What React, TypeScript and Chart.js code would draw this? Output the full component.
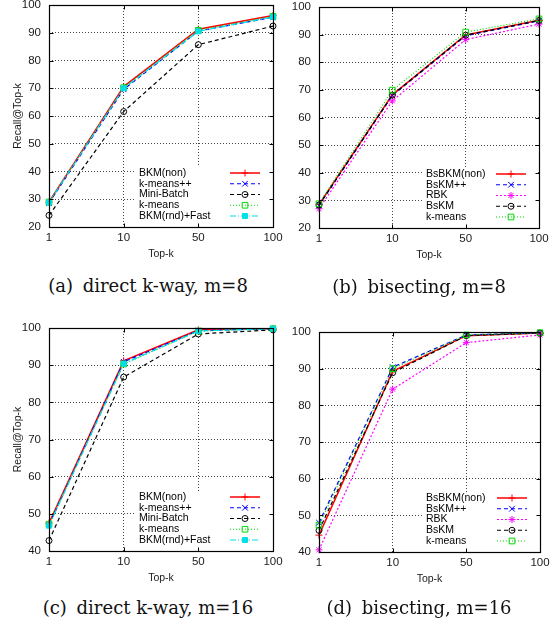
import React, { useEffect, useRef } from 'react';
import { Chart, registerables } from 'chart.js';

Chart.register(...registerables);

// ---------------- data ----------------
const topK = ['1', '10', '50', '100'];

// (a) direct k-way, m=8
const aBkmNon = [29.0, 70.6, 91.3, 96.2];
const aKmeansPP = [28.6, 69.6, 90.6, 95.6];
const aMiniBatch = [24.2, 61.6, 85.7, 92.4];
const aKmeans = [29.0, 70.2, 90.9, 95.9];
const aBkmRndFast = [28.8, 70.0, 90.5, 95.7];

// (b) bisecting, m=8
const bBsBkmNon = [28.5, 68.2, 89.9, 95.2];
const bBsKmPP = [28.2, 68.0, 89.6, 95.0];
const bRbk = [27.0, 66.0, 88.2, 93.8];
const bBsKm = [28.3, 68.1, 89.8, 95.1];
const bKmeans = [28.8, 69.9, 90.9, 95.7];

// (c) direct k-way, m=16
const cBkmNon = [47.5, 91.2, 99.5, 99.8];
const cKmeansPP = [47.0, 90.9, 99.3, 99.8];
const cMiniBatch = [42.8, 86.8, 98.4, 99.5];
const cKmeans = [47.2, 90.3, 99.2, 99.8];
const cBkmRndFast = [46.8, 90.4, 99.2, 99.8];

// (d) bisecting, m=16
const dBsBkmNon = [44.6, 89.3, 99.0, 99.7];
const dBsKmPP = [48.0, 90.4, 99.2, 99.8];
const dRbk = [40.6, 84.4, 97.1, 99.2];
const dBsKm = [45.9, 88.9, 99.0, 99.7];
const dKmeans = [47.3, 90.0, 99.2, 99.8];

const directLabels = ['BKM(non)', 'k-means++', 'Mini-Batch', 'k-means', 'BKM(rnd)+Fast'];
const bisectLabels = ['BsBKM(non)', 'BsKM++', 'RBK', 'BsKM', 'k-means'];

// ---------------- styles ----------------
type Style = { color: string; dash: number[]; marker: string; radius: number; filled: boolean; width: number };

const RED: Style = { color: '#ff0000', dash: [], marker: 'cross', radius: 3.5, filled: false, width: 1.5 };
const BLUE: Style = { color: '#0000ff', dash: [4, 3], marker: 'crossRot', radius: 4, filled: false, width: 1.2 };
const BLACK: Style = { color: '#000000', dash: [4, 3], marker: 'circle', radius: 3, filled: false, width: 1.2 };
const GREEN: Style = { color: '#00dd00', dash: [1, 2], marker: 'rect', radius: 4, filled: false, width: 1.2 };
const CYAN: Style = { color: '#00e0e8', dash: [6, 2, 1, 2], marker: 'rect', radius: 3.5, filled: true, width: 1.2 };
const MAGENTA: Style = { color: '#ff00ff', dash: [2, 2], marker: 'star', radius: 3.5, filled: false, width: 1.2 };

const SANS = '"Liberation Sans", Arial, Helvetica, sans-serif';

type Series = { label: string; values: number[]; style: Style };

type PanelCfg = {
  left: number;
  top: number;
  cl: number;
  ct: number;
  cr: number;
  cb: number;
  yMin: number;
  yMax: number;
  yTitle: boolean;
  legendTextOffset: number;
  series: Series[];
};

function drawMarker(ctx: CanvasRenderingContext2D, s: Style, x: number, y: number) {
  const r = s.radius;
  ctx.save();
  ctx.setLineDash([]);
  ctx.strokeStyle = s.color;
  ctx.fillStyle = s.color;
  ctx.lineWidth = 1;
  ctx.beginPath();
  const d = r * Math.SQRT1_2;
  if (s.marker === 'cross' || s.marker === 'star') {
    ctx.moveTo(x - r, y);
    ctx.lineTo(x + r, y);
    ctx.moveTo(x, y - r);
    ctx.lineTo(x, y + r);
  }
  if (s.marker === 'crossRot' || s.marker === 'star') {
    ctx.moveTo(x - d, y - d);
    ctx.lineTo(x + d, y + d);
    ctx.moveTo(x - d, y + d);
    ctx.lineTo(x + d, y - d);
  }
  if (s.marker === 'circle') {
    ctx.arc(x, y, r, 0, Math.PI * 2);
  }
  if (s.marker === 'rect') {
    ctx.rect(x - d, y - d, 2 * d, 2 * d);
    if (s.filled) ctx.fill();
  }
  ctx.stroke();
  ctx.restore();
}

function Panel({ cfg }: { cfg: PanelCfg }) {
  const ref = useRef<HTMLCanvasElement>(null);
  const W = cfg.cr + 17 - cfg.left;
  const H = cfg.cb + 43 - cfg.top;
  const yW = cfg.cl - cfg.left;
  const padTop = cfg.ct - cfg.top;

  useEffect(() => {
    if (!ref.current) return;
    const n = cfg.series.length;
    const gp = {
      id: 'gp',
      beforeDatasetsDraw(chart: any) {
        const { ctx, chartArea: ca } = chart;
        ctx.save();
        ctx.fillStyle = '#ffffff';
        const bx = Math.round(ca.right - cfg.legendTextOffset - 3);
        ctx.fillRect(bx, ca.bottom - 60, ca.right - bx - 1, 59);
        ctx.restore();
      },
      afterDatasetsDraw(chart: any) {
        const { ctx, chartArea: ca, scales } = chart;
        ctx.save();
        ctx.setLineDash([]);
        ctx.strokeStyle = '#000';
        ctx.lineWidth = 1.2;
        const L = Math.round(ca.left) + 0.5;
        const R = Math.round(ca.right) + 0.5;
        const T = Math.round(ca.top) + 0.5;
        const B = Math.round(ca.bottom) + 0.5;
        ctx.strokeRect(L, T, R - L, B - T);
        ctx.lineWidth = 1;
        ctx.beginPath();
        scales.y.ticks.forEach((t: any) => {
          const y = Math.round(scales.y.getPixelForValue(t.value)) + 0.5;
          ctx.moveTo(L, y);
          ctx.lineTo(L + 4, y);
          ctx.moveTo(R, y);
          ctx.lineTo(R - 4, y);
        });
        topK.forEach((_, i) => {
          const x = Math.round(scales.x.getPixelForValue(i)) + 0.5;
          ctx.moveTo(x, B);
          ctx.lineTo(x, B - 4);
          ctx.moveTo(x, T);
          ctx.lineTo(x, T + 4);
        });
        ctx.stroke();

        // key
        ctx.font = `10.5px ${SANS}`;
        ctx.textBaseline = 'middle';
        ctx.textAlign = 'left';
        cfg.series.forEach((s, i) => {
          const y = ca.bottom - 11 - (n - 1 - i) * 10.75;
          ctx.fillStyle = '#000';
          ctx.fillText(s.label, ca.right - cfg.legendTextOffset, y);
          ctx.save();
          ctx.strokeStyle = s.style.color;
          ctx.lineWidth = s.style.width;
          ctx.setLineDash(s.style.dash);
          ctx.beginPath();
          ctx.moveTo(ca.right - 43, y);
          ctx.lineTo(ca.right - 13, y);
          ctx.stroke();
          ctx.restore();
          drawMarker(ctx, s.style, ca.right - 28, y);
        });
        ctx.restore();
      },
    };

    const tickFont = { family: SANS, size: 11.5 };
    const titleFont = { family: SANS, size: 10.5 };
    const chart = new Chart(ref.current, {
      type: 'line',
      data: {
        labels: topK,
        datasets: cfg.series.map((s, i) => ({
          label: s.label,
          data: s.values,
          borderColor: s.style.color,
          backgroundColor: s.style.color,
          borderWidth: s.style.width,
          borderDash: s.style.dash,
          pointStyle: s.style.marker as any,
          pointRadius: s.style.radius,
          pointBorderWidth: 1,
          pointBorderColor: s.style.color,
          pointBackgroundColor: s.style.filled ? s.style.color : 'rgba(0,0,0,0)',
          tension: 0,
          fill: false,
          clip: false as any,
          order: n - i,
        })),
      },
      options: {
        responsive: false,
        animation: false,
        devicePixelRatio: 1,
        layout: { padding: { top: padTop, right: 17, left: 0, bottom: 0 } },
        plugins: { legend: { display: false }, tooltip: { enabled: false } },
        scales: {
          x: {
            type: 'category',
            offset: false,
            ticks: { padding: 4, font: tickFont, color: '#1a1a1a', maxRotation: 0, autoSkip: false },
            grid: { color: '#444', drawTicks: false, lineWidth: 1 },
            border: { display: false, dash: [1, 2] },
            title: { display: true, text: 'Top-k', font: titleFont, color: '#1a1a1a', padding: { top: 0, bottom: 10 } },
            afterFit(s: any) {
              s.height = 43;
              s.paddingLeft = 0;
              s.paddingRight = 0;
            },
          },
          y: {
            min: cfg.yMin,
            max: cfg.yMax,
            ticks: { stepSize: 10, padding: 8, font: tickFont, color: '#1a1a1a' },
            grid: { color: '#444', drawTicks: false, lineWidth: 1 },
            border: { display: false, dash: [1, 2] },
            title: {
              display: cfg.yTitle,
              text: 'Recall@Top-k',
              font: titleFont,
              color: '#1a1a1a',
              padding: { top: 12, bottom: 0 },
            },
            afterFit(s: any) {
              s.width = yW;
              s.paddingTop = 0;
              s.paddingBottom = 0;
            },
          },
        },
      },
      plugins: [gp],
    } as any);
    return () => chart.destroy();
  }, []);

  return (
    <canvas
      ref={ref}
      width={W}
      height={H}
      style={{ position: 'absolute', left: cfg.left, top: cfg.top, width: W, height: H }}
    />
  );
}

function mk(labels: string[], values: number[][], styles: Style[]): Series[] {
  return labels.map((l, i) => ({ label: l, values: values[i], style: styles[i] }));
}

const directStyles = [RED, BLUE, BLACK, GREEN, CYAN];
const bisectStyles = [RED, BLUE, MAGENTA, BLACK, GREEN];

const panels: PanelCfg[] = [
  {
    left: 0, top: 0, cl: 49, ct: 4, cr: 273, cb: 227, yMin: 20, yMax: 100, yTitle: true, legendTextOffset: 134,
    series: mk(directLabels, [aBkmNon, aKmeansPP, aMiniBatch, aKmeans, aBkmRndFast], directStyles),
  },
  {
    left: 278, top: 0, cl: 319, ct: 7, cr: 539, cb: 228, yMin: 20, yMax: 100, yTitle: false, legendTextOffset: 113,
    series: mk(bisectLabels, [bBsBkmNon, bBsKmPP, bRbk, bBsKm, bKmeans], bisectStyles),
  },
  {
    left: 0, top: 300, cl: 49, ct: 328, cr: 273, cb: 551, yMin: 40, yMax: 100, yTitle: true, legendTextOffset: 134,
    series: mk(directLabels, [cBkmNon, cKmeansPP, cMiniBatch, cKmeans, cBkmRndFast], directStyles),
  },
  {
    left: 278, top: 300, cl: 319, ct: 332, cr: 540, cb: 552, yMin: 40, yMax: 100, yTitle: false, legendTextOffset: 114,
    series: mk(bisectLabels, [dBsBkmNon, dBsKmPP, dRbk, dBsKm, dKmeans], bisectStyles),
  },
];

const captions = [
  { tag: '(a)', text: 'direct k-way, m=8', cx: 148, cy: 286 },
  { tag: '(b)', text: 'bisecting, m=8', cx: 419, cy: 287 },
  { tag: '(c)', text: 'direct k-way, m=16', cx: 148, cy: 608 },
  { tag: '(d)', text: 'bisecting, m=16', cx: 419, cy: 608 },
];

export default function App() {
  return (
    <div style={{ position: 'absolute', left: 0, top: 0, width: 556, height: 625, background: '#fff', overflow: 'hidden' }}>
      {panels.map((p, i) => (
        <Panel key={i} cfg={p} />
      ))}
      {captions.map((c, i) => (
        <div
          key={'c' + i}
          style={{
            position: 'absolute',
            left: c.cx - 150,
            width: 300,
            top: c.cy - 12,
            height: 24,
            lineHeight: '24px',
            textAlign: 'center',
            fontFamily: '"DejaVu Serif", "Liberation Serif", serif',
            fontSize: 18,
            color: '#111',
            whiteSpace: 'nowrap',
          }}
        >
          <span style={{ marginRight: 4 }}>{c.tag}</span> {c.text}
        </div>
      ))}
    </div>
  );
}
